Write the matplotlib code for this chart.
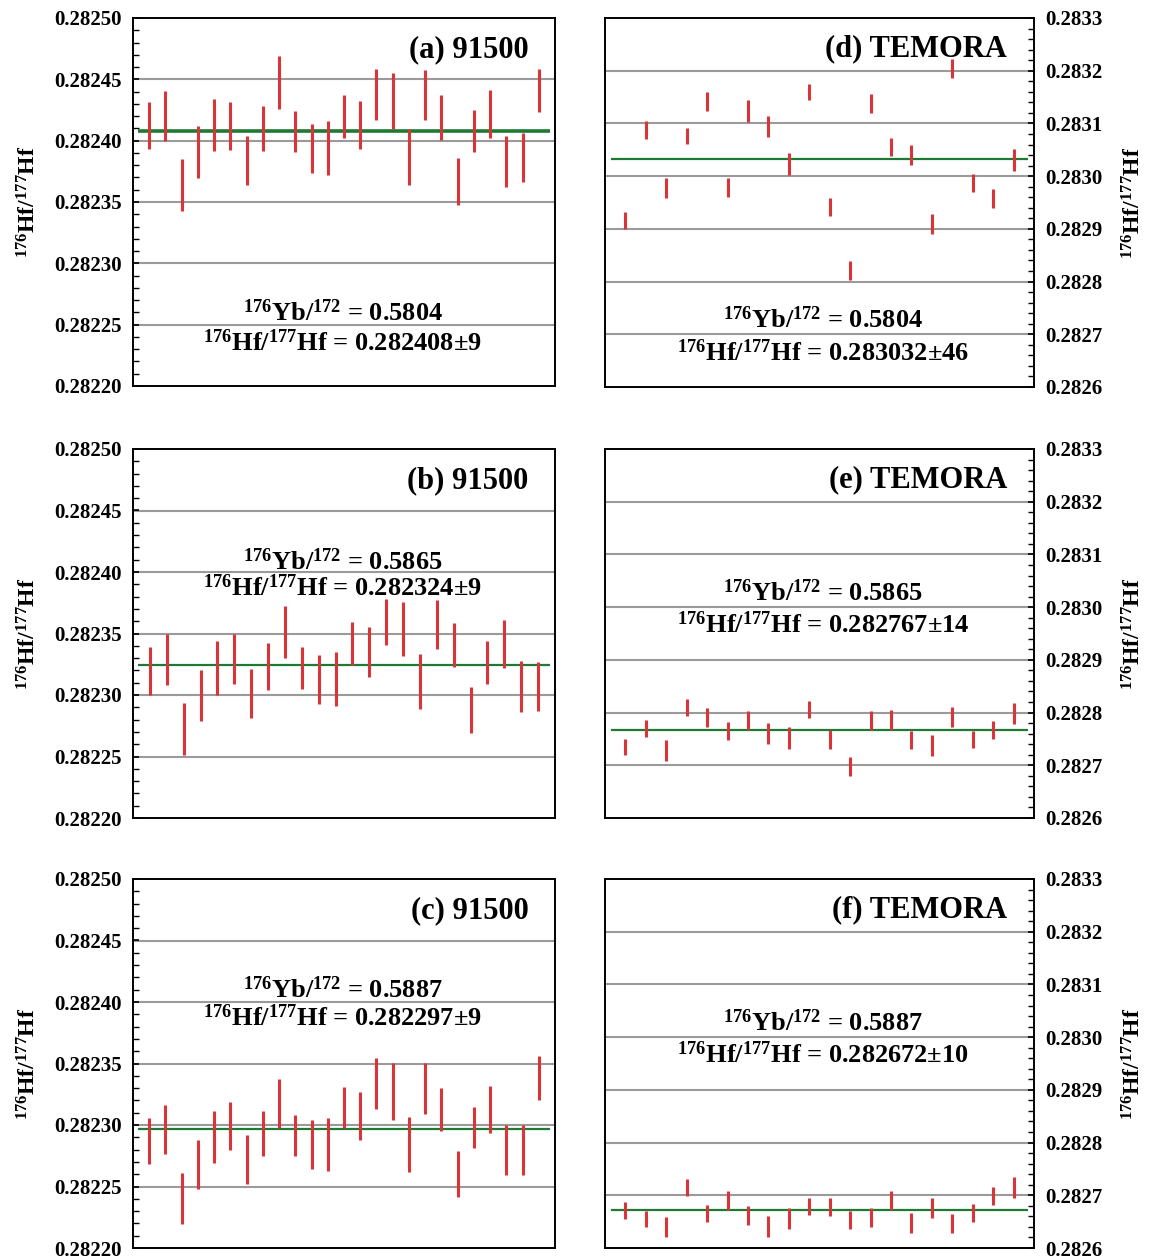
import numpy as np
import matplotlib
matplotlib.use("Agg")
import matplotlib.pyplot as plt
from matplotlib.ticker import MultipleLocator, FormatStrFormatter

plt.rcParams["font.family"] = ["Liberation Serif", "DejaVu Serif"]
plt.rcParams["font.weight"] = "bold"
plt.rcParams["mathtext.fontset"] = "custom"
plt.rcParams["mathtext.rm"] = "Liberation Serif:bold"
plt.rcParams["mathtext.bf"] = "Liberation Serif:bold"
plt.rcParams["mathtext.it"] = "Liberation Serif:bold:italic"

# 176Hf/177Hf per spot, with 2s errors
a_val = [0.2824121, 0.2824202, 0.2823638, 0.2823908, 0.2824128, 0.2824120, 0.2823835, 0.2824098,
         0.2824476, 0.2824072, 0.2823938, 0.2823941, 0.2824198, 0.2824129, 0.2824376, 0.2824323,
         0.2823869, 0.2824373, 0.2824187, 0.2823665, 0.2824082, 0.2824215, 0.2823831, 0.2823861,
         0.2824406]
a_err = [0.0000193, 0.0000203, 0.0000214, 0.0000210, 0.0000210, 0.0000197, 0.0000199, 0.0000186,
         0.0000217, 0.0000168, 0.0000199, 0.0000221, 0.0000178, 0.0000198, 0.0000206, 0.0000229,
         0.0000228, 0.0000203, 0.0000183, 0.0000193, 0.0000172, 0.0000194, 0.0000206, 0.0000198,
         0.0000176]
b_val = [0.2823196, 0.2823290, 0.2822721, 0.2822997, 0.2823221, 0.2823290, 0.2823011, 0.2823234,
         0.2823512, 0.2823221, 0.2823126, 0.2823129, 0.2823416, 0.2823351, 0.2823595, 0.2823537,
         0.2823111, 0.2823575, 0.2823404, 0.2822879, 0.2823268, 0.2823412, 0.2823070, 0.2823069]
b_err = [0.0000198, 0.0000207, 0.0000210, 0.0000207, 0.0000220, 0.0000202, 0.0000199, 0.0000190,
         0.0000215, 0.0000171, 0.0000198, 0.0000217, 0.0000176, 0.0000201, 0.0000187, 0.0000221,
         0.0000226, 0.0000199, 0.0000180, 0.0000190, 0.0000175, 0.0000194, 0.0000205, 0.0000198]
c_val = [0.2822869, 0.2822966, 0.2822400, 0.2822679, 0.2822902, 0.2822993, 0.2822720, 0.2822928,
         0.2823176, 0.2822916, 0.2822841, 0.2822840, 0.2823144, 0.2823073, 0.2823337, 0.2823276,
         0.2822844, 0.2823295, 0.2823126, 0.2822602, 0.2822978, 0.2823129, 0.2822798, 0.2822795,
         0.2823381]
c_err = [0.0000190, 0.0000198, 0.0000206, 0.0000203, 0.0000210, 0.0000195, 0.0000198, 0.0000184,
         0.0000202, 0.0000167, 0.0000198, 0.0000218, 0.0000169, 0.0000199, 0.0000206, 0.0000232,
         0.0000225, 0.0000207, 0.0000176, 0.0000188, 0.0000169, 0.0000190, 0.0000203, 0.0000201,
         0.0000176]
d_val = [0.2829161, 0.2830877, 0.2829775, 0.2830763, 0.2831418, 0.2829779, 0.2831237, 0.2830940,
         0.2830225, 0.2831595, 0.2829415, 0.2828209, 0.2831377, 0.2830554, 0.2830405, 0.2829098,
         0.2832041, 0.2829867, 0.2829582, 0.2830313]
d_err = [0.0000155, 0.0000168, 0.0000187, 0.0000155, 0.0000177, 0.0000177, 0.0000206, 0.0000206,
         0.0000212, 0.0000158, 0.0000174, 0.0000184, 0.0000180, 0.0000174, 0.0000190, 0.0000187,
         0.0000187, 0.0000171, 0.0000177, 0.0000206]
e_val = [0.2827347, 0.2827691, 0.2827281, 0.2828099, 0.2827903, 0.2827650, 0.2827849, 0.2827597,
         0.2827518, 0.2828054, 0.2827483, 0.2826975, 0.2827849, 0.2827859, 0.2827480, 0.2827379,
         0.2827922, 0.2827486, 0.2827666, 0.2827979]
e_err = [0.0000158, 0.0000161, 0.0000193, 0.0000158, 0.0000177, 0.0000177, 0.0000180, 0.0000199,
         0.0000208, 0.0000158, 0.0000180, 0.0000177, 0.0000180, 0.0000189, 0.0000170, 0.0000196,
         0.0000189, 0.0000164, 0.0000167, 0.0000202]
f_val = [0.2826709, 0.2826557, 0.2826393, 0.2827152, 0.2826655, 0.2826902, 0.2826624, 0.2826415,
         0.2826554, 0.2826791, 0.2826782, 0.2826535, 0.2826582, 0.2826905, 0.2826475, 0.2826756,
         0.2826459, 0.2826668, 0.2826991, 0.2827149]
f_err = [0.0000158, 0.0000152, 0.0000190, 0.0000158, 0.0000168, 0.0000180, 0.0000180, 0.0000199,
         0.0000199, 0.0000158, 0.0000168, 0.0000174, 0.0000177, 0.0000184, 0.0000184, 0.0000193,
         0.0000180, 0.0000174, 0.0000168, 0.0000199]

# weighted means and their errors (x1e-6), Yb ratios used for the correction
means = [0.282408, 0.282324, 0.282297, 0.283032, 0.282767, 0.282672]
mean_err = [9, 9, 9, 46, 14, 10]
yb_ratio = ["0.5804", "0.5865", "0.5887"]
panel_tags = ["(a) 91500", "(b) 91500", "(c) 91500", "(d) TEMORA", "(e) TEMORA", "(f) TEMORA"]

RED = "#d8343a"
GREEN = "#1e7a32"
GRID = "#9a9a9a"
YLABEL = r"$^{176}$Hf/$^{177}$Hf"

W, H = 1152, 1257
fig = plt.figure(figsize=(W / 100, H / 100), dpi=100)

# axes boxes in pixels: left, top, right, bottom
boxes = [(133, 18, 555, 386), (133, 449, 555, 818), (133, 879, 555, 1248),
         (605, 18, 1034, 387), (605, 449, 1034, 818), (605, 879, 1034, 1248)]
# y position (axes fraction) of the two text lines per panel
text_y = [(0.198, 0.117), (0.694, 0.623), (0.699, 0.623),
          (0.182, 0.092), (0.610, 0.523), (0.610, 0.523)]

vals = [a_val, b_val, c_val, d_val, e_val, f_val]
errs = [a_err, b_err, c_err, d_err, e_err, f_err]

for i in range(6):
    l, t, r, b = boxes[i]
    ax = fig.add_axes([l / W, 1 - b / H, (r - l) / W, (b - t) / H])
    v = np.array(vals[i]); e = np.array(errs[i])
    n = len(v)
    x = np.arange(1, n + 1)
    right = i >= 3

    if right:
        ax.set_ylim(0.2826, 0.2833)
        ax.yaxis.set_major_locator(MultipleLocator(0.0001))
        ax.yaxis.set_minor_locator(MultipleLocator(0.00002))
        ax.yaxis.set_major_formatter(FormatStrFormatter("%.4f"))
        grid = np.arange(0.2827, 0.28325, 0.0001)
    else:
        ax.set_ylim(0.2822, 0.2825)
        ax.yaxis.set_major_locator(MultipleLocator(0.00005))
        ax.yaxis.set_minor_locator(MultipleLocator(0.00001))
        ax.yaxis.set_major_formatter(FormatStrFormatter("%.5f"))
        grid = np.arange(0.28225, 0.282495, 0.00005)
    ax.set_xlim(0, n + 1)

    for g in grid:
        ax.axhline(g, color=GRID, lw=1.5, zorder=1)

    ax.hlines(means[i], 0.3, n + 0.7, color=GREEN, lw=2.6 if i == 0 else 1.6, zorder=3)
    ax.errorbar(x, v, yerr=e, fmt="none", ecolor=RED, elinewidth=2.2, capsize=0, zorder=4)

    ax.text(0.937, 0.915 if not right else 0.918, panel_tags[i], transform=ax.transAxes,
            ha="right", va="center", fontsize=22, fontweight="bold", zorder=2)
    y1, y2 = text_y[i]
    cx = 0.497 if not right else 0.508
    ax.text(cx, y1, r"$^{176}$Yb/$^{172}$ = " + yb_ratio[i % 3], transform=ax.transAxes,
            ha="center", va="center", fontsize=19, fontweight="bold", zorder=2)
    ax.text(cx, y2, YLABEL + " = %.6f\u00b1%d" % (means[i], mean_err[i]),
            transform=ax.transAxes, ha="center", va="center", fontsize=19,
            fontweight="bold", zorder=2)

    ax.set_xticks([])
    ax.tick_params(axis="y", which="both", direction="in", labelsize=15,
                   left=not right, right=right, labelleft=not right, labelright=right)
    ax.tick_params(axis="y", which="major", length=4, width=1.2, pad=8)
    ax.tick_params(axis="y", which="minor", length=4, width=1.0)
    for lab in ax.get_yticklabels():
        lab.set_fontweight("bold")
    for s in ax.spines.values():
        s.set_linewidth(1.4)

    if right:
        ax.yaxis.set_label_position("right")
        ax.set_ylabel(YLABEL, fontsize=17, fontweight="bold", labelpad=14, rotation=90)
    else:
        ax.set_ylabel(YLABEL, fontsize=17, fontweight="bold", labelpad=10)

fig.savefig("out.png", dpi=100)
